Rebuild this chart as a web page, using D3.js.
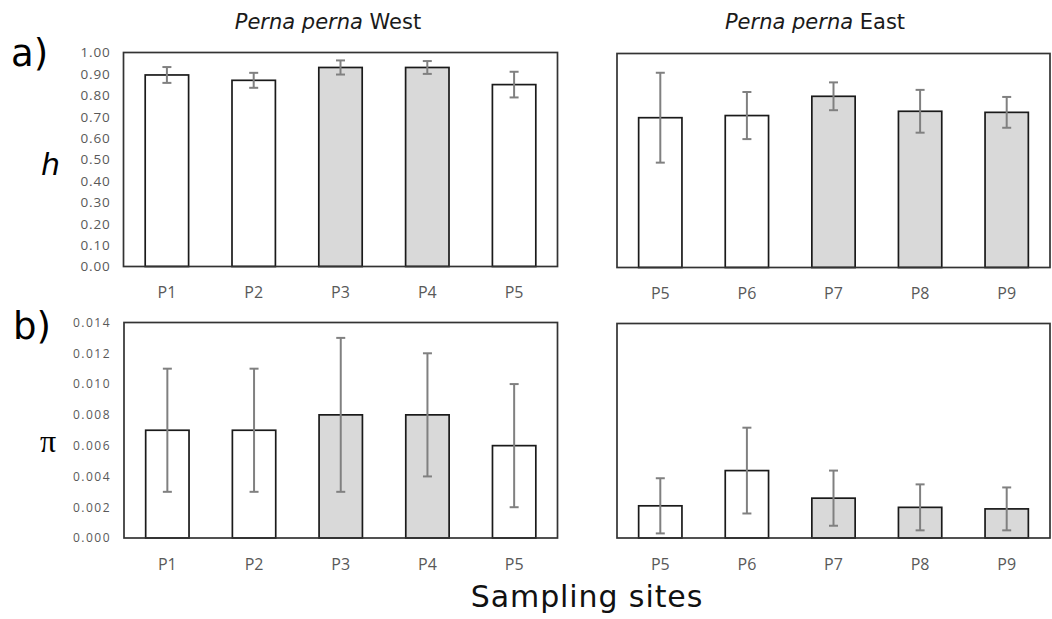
<!DOCTYPE html>
<html><head><meta charset="utf-8">
<script src="https://cdn.jsdelivr.net/npm/d3@7"></script>
<style>
body{margin:0;background:#fff;}
svg{display:block;}
</style></head>
<body><svg id="c" width="1052" height="619"></svg>
<script>
// ---- data ----
const westSites = ["P1","P2","P3","P4","P5"];
const eastSites = ["P5","P6","P7","P8","P9"];
const westShaded = [false,false,true,true,false];
const eastShaded = [false,false,true,true,true];
const hWest = [0.895,0.870,0.930,0.930,0.850];
const hWestErr = [0.037,0.035,0.033,0.030,0.060];
const hEast = [0.700,0.710,0.800,0.730,0.725];
const hEastErr = [0.210,0.110,0.065,0.100,0.072];
const piWest = [0.0070,0.0070,0.0080,0.0080,0.0060];
const piWestErr = [0.0040,0.0040,0.0050,0.0040,0.0040];
const piEast = [0.0021,0.0044,0.0026,0.0020,0.0019];
const piEastErr = [0.0018,0.0028,0.0018,0.0015,0.0014];
const hTicks = [0,0.1,0.2,0.3,0.4,0.5,0.6,0.7,0.8,0.9,1.0];
const piTicks = [0,0.002,0.004,0.006,0.008,0.010,0.012,0.014];

const svg = d3.select("#c");

function panel(o){
  const g = svg.append("g");
  const x = d3.scaleBand().domain(o.sites.map((s,i)=>i)).range([o.x0,o.x1]).paddingInner(0.5).paddingOuter(0.25);
  const y = d3.scaleLinear().domain([0,o.max]).range([o.y1,o.y0]);
  const data = o.sites.map((s,i)=>({s,i,v:o.vals[i],e:o.errs[i],sh:o.shaded[i]}));
  // bars
  g.selectAll("rect.bar").data(data).enter().append("rect")
    .attr("x",d=>x(d.i)).attr("width",x.bandwidth())
    .attr("y",d=>y(d.v)).attr("height",d=>y(0)-y(d.v))
    .attr("fill",d=>d.sh?"#d9d9d9":"#ffffff")
    .attr("stroke","#1a1a1a").attr("stroke-width",1.7);
  // frame
  g.append("rect").attr("x",o.x0).attr("y",o.y0).attr("width",o.x1-o.x0).attr("height",o.y1-o.y0)
    .attr("fill","none").attr("stroke","#333333").attr("stroke-width",1.7);
  // error bars
  const cx = d=>x(d.i)+x.bandwidth()/2;
  const eb = g.selectAll("g.eb").data(data).enter().append("g").attr("stroke","#808080").attr("stroke-width",2);
  eb.append("line").attr("x1",cx).attr("x2",cx).attr("y1",d=>y(d.v+d.e)).attr("y2",d=>y(Math.max(0,d.v-d.e)));
  eb.append("line").attr("x1",d=>cx(d)-4.5).attr("x2",d=>cx(d)+4.5).attr("y1",d=>y(d.v+d.e)).attr("y2",d=>y(d.v+d.e));
  eb.append("line").attr("x1",d=>cx(d)-4.5).attr("x2",d=>cx(d)+4.5).attr("y1",d=>y(Math.max(0,d.v-d.e))).attr("y2",d=>y(Math.max(0,d.v-d.e)));
  // x axis
  const xa = g.append("g").attr("transform",`translate(0,${o.y1})`)
    .call(d3.axisBottom(x).tickSize(0).tickPadding(0).tickFormat(i=>o.sites[i]));
  xa.select(".domain").remove();
  xa.selectAll("text").attr("dy",null).attr("y",31.5).attr("fill","#595959")
    .style("font-family","'Open Sans'").style("font-size","16px");
  // y axis
  if(o.ticks){
    const ya = g.append("g").attr("transform",`translate(${o.x0-13},0)`)
      .call(d3.axisLeft(y).tickValues(o.ticks).tickSize(0).tickPadding(0).tickFormat(d3.format(o.fmt)));
    ya.select(".domain").remove();
    ya.selectAll("text").attr("fill","#595959")
      .style("font-family","'Open Sans'").style("font-size",o.fs).style("letter-spacing",o.ls);
  }
}

panel({sites:westSites,vals:hWest,errs:hWestErr,shaded:westShaded,max:1,x0:123.5,x1:557.5,y0:52.5,y1:266.5,ticks:hTicks,fmt:".2f",fs:"13.5px",ls:"0.8px"});
panel({sites:eastSites,vals:hEast,errs:hEastErr,shaded:eastShaded,max:1,x0:617,x1:1050,y0:53.5,y1:267.5});
panel({sites:westSites,vals:piWest,errs:piWestErr,shaded:westShaded,max:0.014,x0:124,x1:557.5,y0:322.5,y1:538,ticks:piTicks,fmt:".3f",fs:"12px",ls:"1.5px"});
panel({sites:eastSites,vals:piEast,errs:piEastErr,shaded:eastShaded,max:0.014,x0:617,x1:1050,y0:323.5,y1:538});

// titles
function title(xc,word){
  const t = svg.append("text").attr("x",xc).attr("y",28.5).attr("text-anchor","middle")
    .style("font-family","'DejaVu Sans'").style("font-size","21px").attr("fill","#1a1a1a");
  t.append("tspan").style("font-style","italic").text("Perna perna");
  t.append("tspan").text(" "+word);
}
title(328,"West");
title(815,"East");

svg.append("text").attr("x",11).attr("y",66).text("a)")
  .style("font-family","'DejaVu Sans'").style("font-size","37px").attr("fill","#000");
svg.append("text").attr("x",13).attr("y",339).text("b)")
  .style("font-family","'DejaVu Sans'").style("font-size","37px").attr("fill","#000");
svg.append("text").attr("x",41).attr("y",175).text("h")
  .style("font-family","'DejaVu Sans'").style("font-style","italic").style("font-size","30px").attr("fill","#000");
svg.append("text").attr("x",40).attr("y",452).text("π")
  .style("font-family","'Liberation Serif'").style("font-size","32px").attr("fill","#000");
svg.append("text").attr("x",587).attr("y",607).attr("text-anchor","middle").text("Sampling sites")
  .style("font-family","'DejaVu Sans'").style("font-size","30px").style("letter-spacing","0.9px").attr("fill","#111");
</script></body></html>
